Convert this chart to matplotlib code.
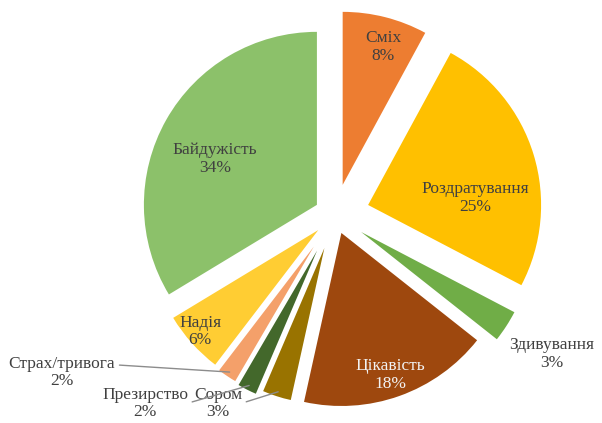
import numpy as np
import matplotlib.pyplot as plt

# emotions, clockwise from the top
labels = ['Сміх', 'Роздратування', 'Здивування', 'Цікавість', 'Сором',
          'Презирство', 'Страх/тривога', 'Надія', 'Байдужість']
values = [8, 25, 3, 18, 3, 2, 2, 6, 34]
colors = ['#ED7D31', '#FFC000', '#70AD47', '#9E480E', '#997300',
          '#43682B', '#F4A06A', '#FFCD33', '#8CC16A']
explode = [0.18, 0.2, 0.18, 0.11, 0.2, 0.23, 0.22, 0.13, 0.12]
# the thin slices are drawn a bit shorter, as in the original
size = [1, 1, 1, 1, 0.9, 0.9, 0.9, 0.98, 1]

# label placement (data units, pie radius = 1)
label_pos = [(0.277, 0.971), (0.809, 0.098), (1.254, -0.803), (0.318, -0.925),
             (-0.676, -1.087), (-1.098, -1.087), (-1.578, -0.908),
             (-0.780, -0.671), (-0.694, 0.324)]
leader = [False, False, False, False, True, True, True, False, False]
leader_from = {4: (1, 0.5), 5: (1, 0.5), 6: (1, 0.72)}
text_col = ['#404040'] * 9
text_col[3] = '#F2F2F2'

plt.rcParams['font.family'] = ['Liberation Serif', 'DejaVu Serif']

fig = plt.figure(figsize=(6.02, 4.23), dpi=100)
ax = fig.add_axes([0, 0, 1, 1])
wedges, _ = ax.pie(values, colors=colors, explode=explode, startangle=90,
                   counterclock=False, radius=1,
                   wedgeprops=dict(linewidth=0))
for w, s in zip(wedges, size):
    w.set_radius(s)
ax.set_xlim(-1.936, 1.543)
ax.set_ylim(-1.202, 1.243)
ax.set_aspect('equal')
ax.axis('off')

for i, w in enumerate(wedges):
    txt = f"{labels[i]}\n{round(values[i])}%"
    if leader[i]:
        mid = np.deg2rad((w.theta1 + w.theta2) / 2)
        cx, cy = w.center
        tip = (cx + 0.97 * w.r * np.cos(mid), cy + 0.97 * w.r * np.sin(mid))
        ax.annotate(txt, xy=tip, xytext=label_pos[i], ha='center', va='center',
                    fontsize=12.5, color=text_col[i], linespacing=1.1,
                    arrowprops=dict(arrowstyle='-', color='#8C8C8C', lw=1,
                                    relpos=leader_from[i], shrinkA=1, shrinkB=0))
    else:
        ax.text(*label_pos[i], txt, ha='center', va='center', fontsize=12.5,
                color=text_col[i], linespacing=1.1)

fig.savefig('out.png', dpi=100)
